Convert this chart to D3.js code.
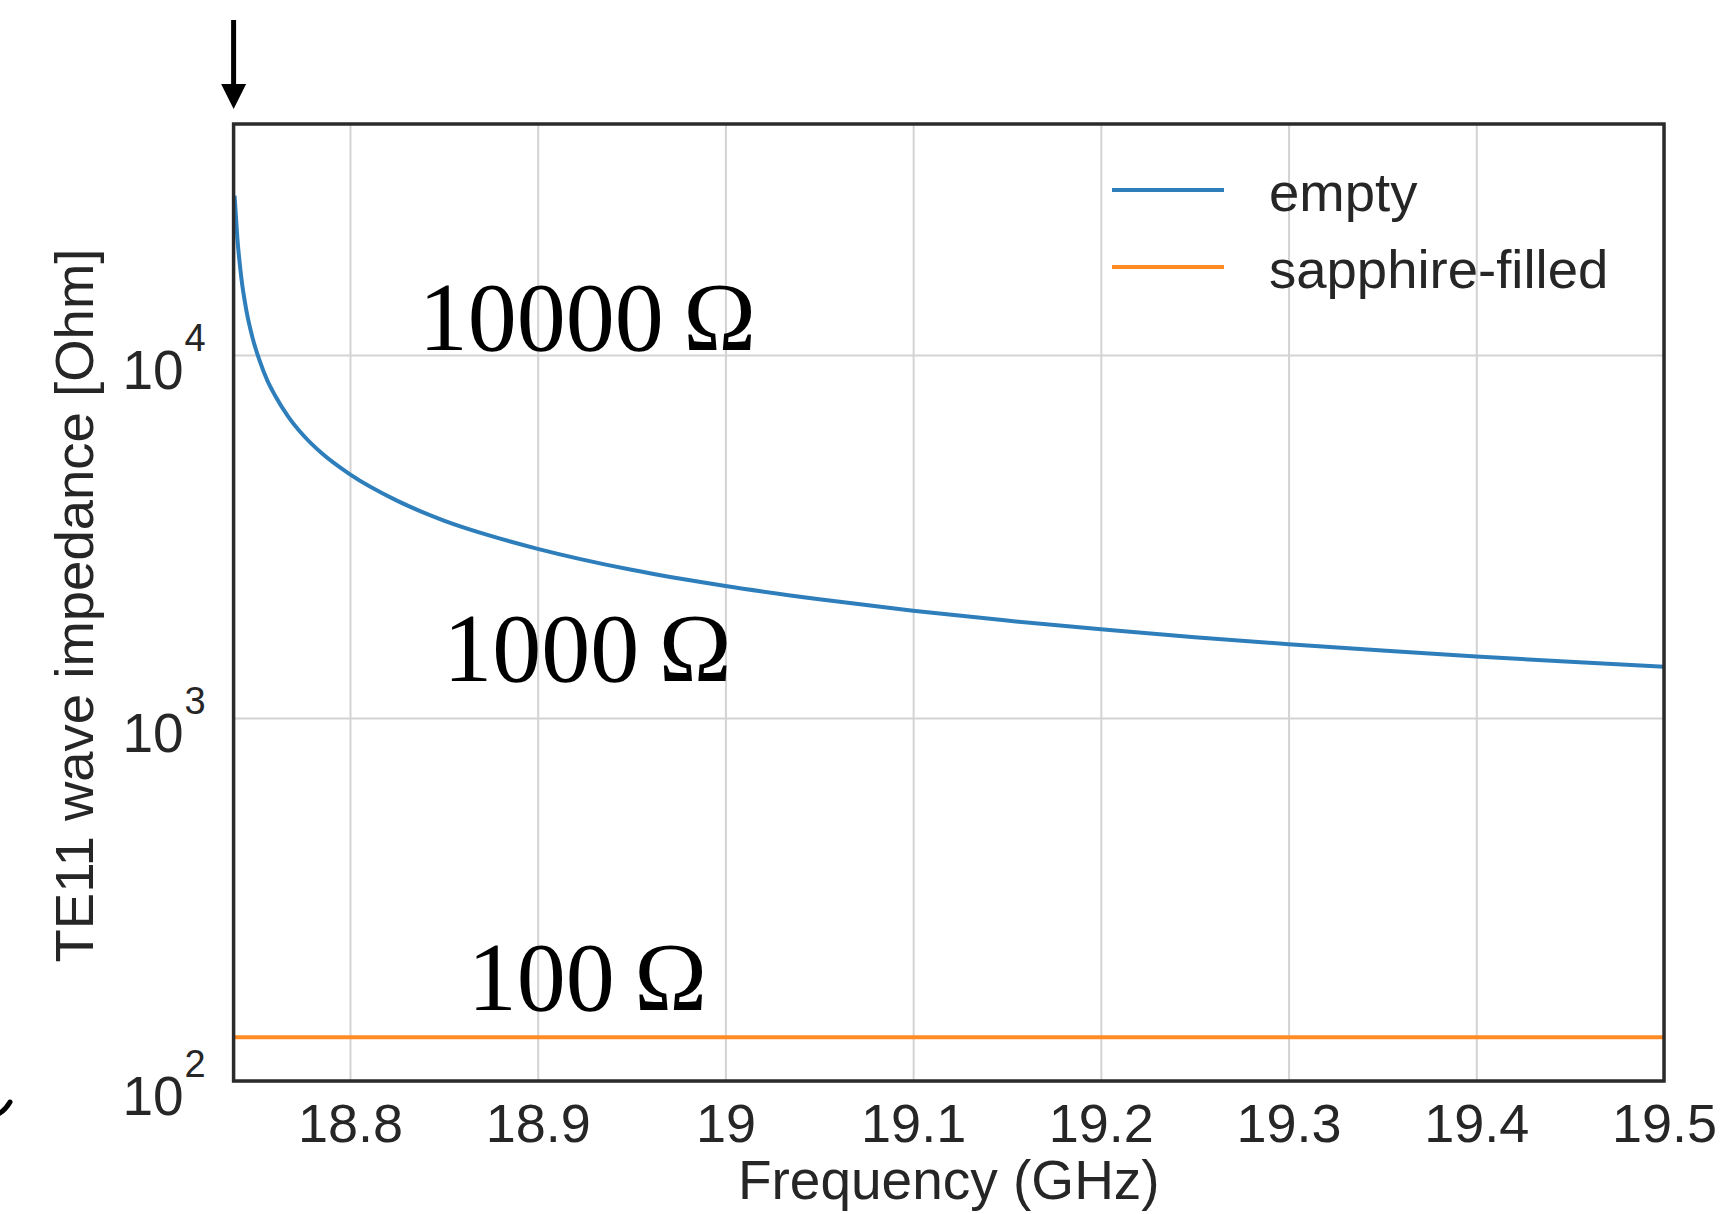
<!DOCTYPE html>
<html>
<head>
<meta charset="utf-8">
<script src="https://d3js.org/d3.v7.min.js"></script>
<style>
    body { margin: 0; background: #ffffff; }
    svg { display: block; }
    .tick text { fill: #262626; font-family: "Liberation Sans", Arial, sans-serif; }
</style>
</head>
<body>
<div id="chart"></div>
<script>

// DATA
const freqGHz = [18.7385, 18.740, 18.742, 18.745, 18.748, 18.752, 18.756, 18.760, 18.767, 18.775,
    18.785, 18.800, 18.825, 18.850, 18.875, 18.900, 18.950, 19.000, 19.050, 19.100,
    19.150, 19.200, 19.250, 19.300, 19.350, 19.400, 19.450, 19.500];
const emptyOhm = [27500, 21000, 16500, 13100, 11200, 9600, 8500, 7750, 6780, 6020,
    5360, 4690, 3970, 3500, 3175, 2925, 2560, 2310, 2125, 1975,
    1855, 1755, 1670, 1597, 1534, 1478, 1428, 1385];
const sapphireOhm = [132, 132, 132, 132, 132, 132, 132, 132, 132, 132,
    132, 132, 132, 132, 132, 132, 132, 132, 132, 132,
    132, 132, 132, 132, 132, 132, 132, 132];

const seriesNames = ["empty", "sapphire-filled"];
const xTicks = [18.8, 18.9, 19.0, 19.1, 19.2, 19.3, 19.4, 19.5];
const yTicks = [100, 1000, 10000];
const xLabel = "Frequency (GHz)";
const yLabel = "TE11 wave impedance [Ohm]";

// big serif notes drawn on top of the plot
const noteTexts = ["10000\u2009\u03A9", "1000\u2009\u03A9", "100\u2009\u03A9"];
const noteFreq = [18.9265, 18.9265, 18.9265];
const noteOhm = [10350, 1265, 157];


// UPPSÄTTNING SVG
const wsvg = 1736;
const hsvg = 1214;

const padLeft = 233.6;
const padRight = 1664;
const padTop = 124;
const padBottom = 1081;

const svg = d3.select("#chart").append("svg")
    .attr("width", wsvg)
    .attr("height", hsvg)
    .attr("viewBox", `0 0 ${wsvg} ${hsvg}`);

const xScale = d3.scaleLinear([18.738, 19.5], [padLeft, padRight]);
const yScale = d3.scaleLog([100, 43300], [padBottom, padTop]);

const fontSans = "'Liberation Sans', Arial, Helvetica, sans-serif";
const fontSerif = "'Liberation Serif', 'Times New Roman', serif";
const gridColor = "#d3d3d3";
const frameColor = "#2b2b2b";
const colors = ["#2e7ebb", "#ff8b22"];

// GRID
const xGridG = svg.append("g")
    .attr("transform", `translate(0, ${padBottom})`)
    .call(d3.axisBottom(xScale).tickValues(xTicks).tickSize(-(padBottom - padTop)).tickFormat(""));
xGridG.select(".domain").remove();
xGridG.selectAll("line").attr("stroke", gridColor).attr("stroke-width", 2);

const yGridG = svg.append("g")
    .attr("transform", `translate(${padLeft}, 0)`)
    .call(d3.axisLeft(yScale).tickValues(yTicks).tickSize(-(padRight - padLeft)).tickFormat(""));
yGridG.select(".domain").remove();
yGridG.selectAll("line").attr("stroke", gridColor).attr("stroke-width", 2);

// LINES
const line = d3.line()
    .x(d => xScale(d[0]))
    .y(d => yScale(d[1]))
    .curve(d3.curveMonotoneX);

const seriesValues = [emptyOhm, sapphireOhm];

seriesValues.forEach((vals, i) => {
    svg.append("path")
        .datum(freqGHz.map((f, j) => [f, vals[j]]))
        .attr("fill", "none")
        .attr("stroke", colors[i])
        .attr("stroke-width", 4)
        .attr("stroke-linejoin", "round")
        .attr("d", line);
});

// FRAME
svg.append("rect")
    .attr("x", padLeft)
    .attr("y", padTop)
    .attr("width", padRight - padLeft)
    .attr("height", padBottom - padTop)
    .attr("fill", "none")
    .attr("stroke", frameColor)
    .attr("stroke-width", 3.5);

// AXES TEXT
const xAxisG = svg.append("g")
    .attr("transform", `translate(0, ${padBottom})`)
    .call(d3.axisBottom(xScale).tickValues(xTicks).tickSize(0).tickPadding(22)
        .tickFormat(d => String(+d.toFixed(1))));
xAxisG.select(".domain").remove();
xAxisG.selectAll("text")
    .attr("font-size", 54)
    .attr("font-family", fontSans)
    .attr("dy", "0.72em");

const yAxisG = svg.append("g")
    .attr("transform", `translate(${padLeft}, 0)`)
    .call(d3.axisLeft(yScale).tickValues(yTicks).tickSize(0).tickFormat(""));
yAxisG.select(".domain").remove();

yAxisG.selectAll(".tick").each(function (d) {
    const t = d3.select(this);
    t.select("text").remove();
    t.append("text")
        .attr("x", -50)
        .attr("y", 33)
        .attr("text-anchor", "end")
        .attr("font-size", 55)
        .attr("font-family", fontSans)
        .attr("fill", "#262626")
        .text("10");
    t.append("text")
        .attr("x", -49)
        .attr("y", -5)
        .attr("text-anchor", "start")
        .attr("font-size", 38)
        .attr("font-family", fontSans)
        .attr("fill", "#262626")
        .text(Math.round(Math.log10(d)));
});

svg.append("text")
    .attr("x", (padLeft + padRight) / 2)
    .attr("y", 1199)
    .attr("text-anchor", "middle")
    .attr("font-size", 55)
    .attr("font-family", fontSans)
    .attr("fill", "#262626")
    .text(xLabel);

svg.append("text")
    .attr("transform", `translate(93, ${(padTop + padBottom) / 2 + 3}) rotate(-90)`)
    .attr("text-anchor", "middle")
    .attr("font-size", 54.5)
    .attr("font-family", fontSans)
    .attr("fill", "#262626")
    .text(yLabel);

// LEGEND
const legendG = svg.append("g").attr("transform", "translate(1112, 190)");
seriesNames.forEach((name, i) => {
    legendG.append("line")
        .attr("x1", 0).attr("x2", 112)
        .attr("y1", i * 77).attr("y2", i * 77)
        .attr("stroke", colors[i])
        .attr("stroke-width", 4);
    legendG.append("text")
        .attr("x", 157)
        .attr("y", i * 77 + 21)
        .attr("font-size", 54.5)
        .attr("font-family", fontSans)
        .attr("fill", "#262626")
        .text(name);
});

// NOTES
noteTexts.forEach((txt, i) => {
    svg.append("text")
        .attr("x", xScale(noteFreq[i]))
        .attr("y", yScale(noteOhm[i]))
        .attr("text-anchor", "middle")
        .attr("font-size", 98)
        .attr("font-family", fontSerif)
        .attr("fill", "#000")
        .text(txt);
});

// ARROW at cutoff
const arrowX = xScale.range()[0];
svg.append("line")
    .attr("x1", arrowX).attr("x2", arrowX)
    .attr("y1", 20).attr("y2", 88)
    .attr("stroke", "#000")
    .attr("stroke-width", 5);
svg.append("path")
    .attr("d", `M${arrowX - 12.5},84 L${arrowX + 12.5},84 L${arrowX},109 Z`)
    .attr("fill", "#000");

// cut-off glyph at the left edge
svg.append("path")
    .attr("d", "M0,1113 Q6,1109 10,1102")
    .attr("fill", "none")
    .attr("stroke", "#000")
    .attr("stroke-width", 5)
    .attr("stroke-linecap", "round");

</script>
</body>
</html>
